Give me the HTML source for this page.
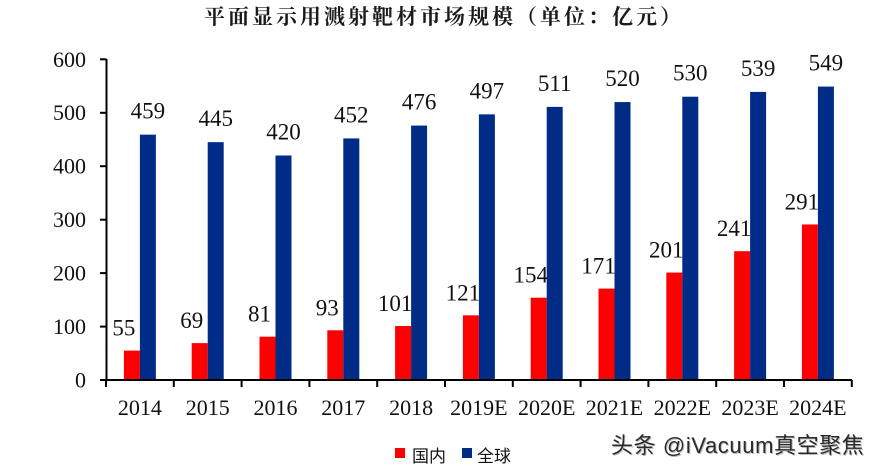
<!DOCTYPE html>
<html><head><meta charset="utf-8"><style>
html,body{margin:0;padding:0;background:#fff;}
body{width:884px;height:466px;overflow:hidden;position:relative;}
svg{position:absolute;left:0;top:0;}
.wm{position:absolute;left:611px;top:428px;font-family:"Liberation Sans","Noto Sans CJK SC",sans-serif;font-size:22px;color:#2a2a2a;letter-spacing:0.6px;white-space:nowrap;text-shadow:1px 1px 0 #bbb,-1px -1px 0 #fff;}
</style></head><body>
<svg width="884" height="466" viewBox="0 0 884 466" xmlns="http://www.w3.org/2000/svg">
<text x="444" y="24" text-anchor="middle" font-family="'Noto Serif CJK SC','Liberation Serif',serif" font-weight="700" font-size="21" letter-spacing="3" fill="#1a1a1a">平面显示用溅射靶材市场规模（单位：亿元）</text>
<g font-family="'Liberation Serif',serif" font-size="22" fill="#111" text-anchor="end">
<text x="86" y="66.8">600</text>
<text x="86" y="120.2">500</text>
<text x="86" y="173.7">400</text>
<text x="86" y="227.1">300</text>
<text x="86" y="280.6">200</text>
<text x="86" y="334">100</text>
<text x="86" y="387.5">0</text>
</g>
<g id="bars"></g>
<g stroke="#000" stroke-width="2" fill="none">
<line x1="106.5" y1="59" x2="106.5" y2="381"/>
<line x1="100" y1="380" x2="852" y2="380"/>
<line x1="100" y1="59.3" x2="106.5" y2="59.3"/>
<line x1="100" y1="112.8" x2="106.5" y2="112.8"/>
<line x1="100" y1="166.2" x2="106.5" y2="166.2"/>
<line x1="100" y1="219.7" x2="106.5" y2="219.7"/>
<line x1="100" y1="273.1" x2="106.5" y2="273.1"/>
<line x1="100" y1="326.6" x2="106.5" y2="326.6"/>
</g>
<g id="ticks" stroke="#000" stroke-width="2"></g>
<g id="labels" font-family="'Liberation Serif',serif" fill="#111"></g>
<rect x="395" y="448" width="10" height="10" fill="#ff0000"/>
<text x="412" y="462" font-family="'Noto Sans CJK SC',sans-serif" font-size="17" fill="#111">国内</text>
<rect x="462" y="448" width="10" height="10" fill="#002b87"/>
<text x="477" y="462" font-family="'Noto Sans CJK SC',sans-serif" font-size="17" fill="#111">全球</text>
</svg>
<div class="wm">头条 @iVacuum真空聚焦</div>
<script>
(function(){
var ns="http://www.w3.org/2000/svg";
var cats=["2014","2015","2016","2017","2018","2019E","2020E","2021E","2022E","2023E","2024E"];
var dom=[55,69,81,93,101,121,154,171,201,241,291];
var glob=[459,445,420,452,476,497,511,520,530,539,549];
var bars=document.getElementById("bars"),ticks=document.getElementById("ticks"),labels=document.getElementById("labels");
function el(t,a,p,txt){var e=document.createElementNS(ns,t);for(var k in a)e.setAttribute(k,a[k]);if(txt!=null)e.textContent=txt;p.appendChild(e);return e;}
function Y(v){return 380-v*0.5345;}
var W=67.8;
for(var i=0;i<=11;i++){var x=106+i*W;el("line",{x1:x,y1:380,x2:x,y2:387},ticks);}
for(var i=0;i<11;i++){
var c=106+i*W+W/2;
el("rect",{x:c-16,y:Y(dom[i]),width:16,height:380-Y(dom[i]),fill:"#ff0000"},bars);
el("rect",{x:c,y:Y(glob[i]),width:16,height:380-Y(glob[i]),fill:"#002b87"},bars);
el("text",{x:c-16,y:Y(dom[i])-15,"text-anchor":"middle","font-size":23},labels,String(dom[i]));
el("text",{x:c+8,y:Y(glob[i])-16,"text-anchor":"middle","font-size":23},labels,String(glob[i]));
el("text",{x:c,y:415,"text-anchor":"middle","font-size":22},labels,cats[i]);
}
})();
</script>
</body></html>
